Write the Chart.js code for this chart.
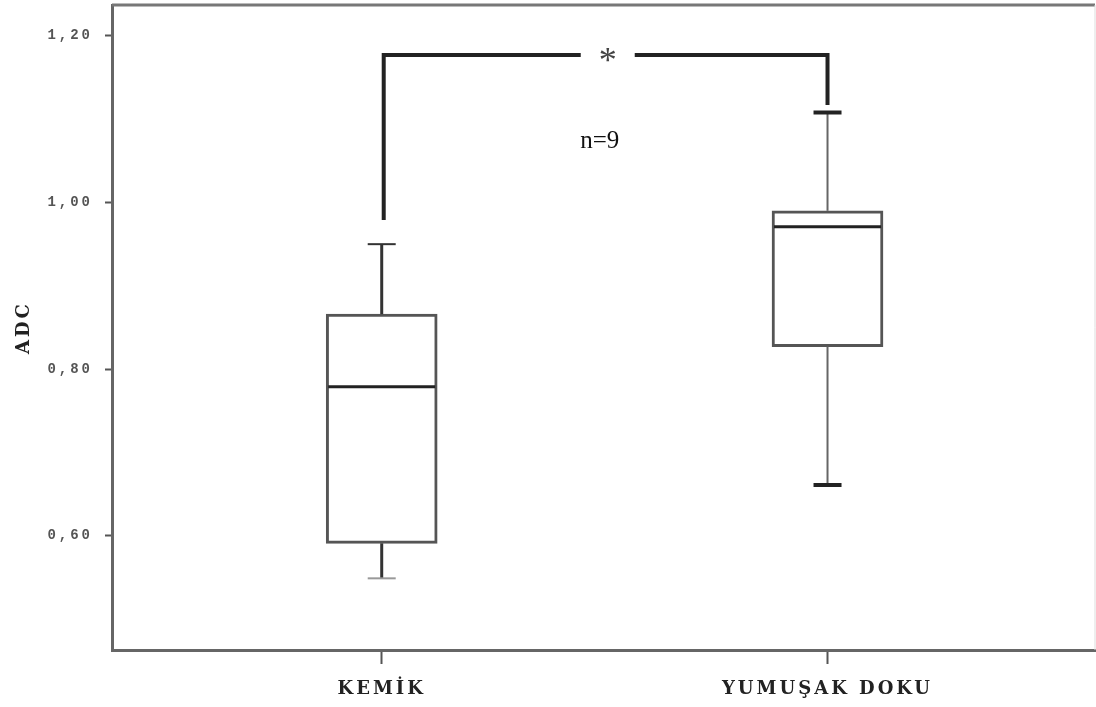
<!DOCTYPE html>
<html lang="tr">
  <head>
    <meta charset="UTF-8" />
    <title>ADC</title>
    <script src="https://cdn.jsdelivr.net/npm/chart.js@4/dist/chart.umd.min.js"></script>
    <style>
      body { margin: 0; background: #fff; }
      #wrap { width: 1096px; height: 707px; }
    </style>
  </head>
  <body>
    <div id="wrap"><canvas id="chart"></canvas></div>

    <script>
      // data
      const categories = ["KEMİK", "YUMUŞAK DOKU"];
      const xPositions = [1, 2];
      const whiskerLow = [0.549, 0.661];
      const q1 = [0.591, 0.827];
      const median = [0.779, 0.971];
      const q3 = [0.866, 0.99];
      const whiskerHigh = [0.95, 1.108];
      const yTicks = [0.6, 0.8, 1.0, 1.2];

      // significance bracket + note
      const bracketY = 1.177;
      const bracketEnds = [0.979, 1.117];
      const starAt = [1.507, 1.177];
      const noteText = "n=9";
      const noteAt = [1.489, 1.073];

      // per-box line styles (whisker, top cap, bottom cap)
      const boxStyles = [
        { whisker: ["#333", 3], capTop: ["#333", 2], capBottom: ["#999", 2] },
        { whisker: ["#666", 2], capTop: ["#222", 4], capBottom: ["#222", 4] },
      ];

      function seg(ctx, x1, y1, x2, y2, color, w) {
        ctx.beginPath();
        ctx.strokeStyle = color;
        ctx.lineWidth = w;
        ctx.moveTo(x1, y1);
        ctx.lineTo(x2, y2);
        ctx.stroke();
      }

      const boxExtras = {
        id: "boxExtras",
        beforeDraw(chart) {
          chart.ctx.letterSpacing = "3px";
        },
        afterDatasetsDraw(chart) {
          const { ctx, scales } = chart;
          const x = scales.x, y = scales.y;
          const bars = chart.getDatasetMeta(0).data;
          ctx.save();
          ctx.letterSpacing = "0px";

          xPositions.forEach((pos, i) => {
            const cx = x.getPixelForValue(pos);
            const half = bars[i].width / 2;
            const st = boxStyles[i];
            // whiskers
            seg(ctx, cx, y.getPixelForValue(q3[i]), cx, y.getPixelForValue(whiskerHigh[i]), st.whisker[0], st.whisker[1]);
            seg(ctx, cx, y.getPixelForValue(q1[i]), cx, y.getPixelForValue(whiskerLow[i]), st.whisker[0], st.whisker[1]);
            // caps
            const yh = y.getPixelForValue(whiskerHigh[i]);
            const yl = y.getPixelForValue(whiskerLow[i]);
            seg(ctx, cx - 14, yh, cx + 14, yh, st.capTop[0], st.capTop[1]);
            seg(ctx, cx - 14, yl, cx + 14, yl, st.capBottom[0], st.capBottom[1]);
            // median
            const ym = y.getPixelForValue(median[i]);
            seg(ctx, cx - half + 2, ym, cx + half - 2, ym, "#222", 3);
          });

          // bracket
          const xl = x.getPixelForValue(xPositions[0]) + 2;
          const xr = x.getPixelForValue(xPositions[1]);
          const yb = y.getPixelForValue(bracketY);
          const sx = x.getPixelForValue(starAt[0]);
          const sy = y.getPixelForValue(starAt[1]);
          ctx.lineJoin = "miter";
          ctx.strokeStyle = "#222";
          ctx.lineWidth = 4;
          ctx.beginPath();
          ctx.moveTo(xl, y.getPixelForValue(bracketEnds[0]));
          ctx.lineTo(xl, yb);
          ctx.lineTo(sx - 27, yb);
          ctx.stroke();
          ctx.beginPath();
          ctx.moveTo(sx + 27, yb);
          ctx.lineTo(xr, yb);
          ctx.lineTo(xr, y.getPixelForValue(bracketEnds[1]));
          ctx.stroke();

          // star, centred on the bracket line
          ctx.fillStyle = "#444";
          ctx.font = "36px 'Liberation Serif'";
          ctx.textAlign = "center";
          ctx.textBaseline = "alphabetic";
          const m = ctx.measureText("*");
          ctx.fillText("*", sx, sy + (m.actualBoundingBoxAscent - m.actualBoundingBoxDescent) / 2);

          // n=9
          ctx.fillStyle = "#111";
          ctx.font = "25px 'Liberation Serif'";
          ctx.textBaseline = "middle";
          ctx.fillText(noteText, x.getPixelForValue(noteAt[0]), y.getPixelForValue(noteAt[1]));

          // top and right frame
          const a = chart.chartArea;
          seg(ctx, a.left, a.top, a.right, a.top, "#777", 3);
          seg(ctx, a.right, a.top, a.right, a.bottom, "#ddd", 1);
          ctx.restore();
        },
      };

      const ctx = document.getElementById("chart").getContext("2d");
      const myChart = new Chart(ctx, {
        type: "bar",
        data: {
          datasets: [
            {
              data: xPositions.map((p, i) => ({ x: p, y: [q1[i], q3[i]] })),
              backgroundColor: "#fff",
              borderColor: "#555",
              borderWidth: 3,
              borderSkipped: false,
              barThickness: 111,
            },
          ],
        },
        plugins: [boxExtras],
        options: {
          responsive: true,
          maintainAspectRatio: false,
          animation: false,
          layout: { padding: { top: 5, right: 1, left: 0, bottom: 0 } },
          plugins: {
            legend: { display: false },
            tooltip: { enabled: false },
          },
          scales: {
            x: {
              type: "linear",
              offset: false,
              min: 0.395,
              max: 2.6,
              afterBuildTicks: (s) => {
                s.ticks = xPositions.map((v) => ({ value: v }));
              },
              afterFit: (s) => {
                s.height = 57;
                s.paddingLeft = 0;
                s.paddingRight = 0;
              },
              ticks: {
                callback: (v) => categories[xPositions.indexOf(v)],
                autoSkip: false,
                maxRotation: 0,
                padding: 15,
                color: "#222",
                font: { family: "'DejaVu Serif'", size: 18, weight: "bold" },
              },
              grid: { offset: false, drawOnChartArea: false, tickLength: 14, tickColor: "#555", tickWidth: 2 },
              border: { color: "#666", width: 3 },
            },
            y: {
              min: 0.463,
              max: 1.237,
              afterBuildTicks: (s) => {
                s.ticks = yTicks.map((v) => ({ value: v }));
              },
              afterFit: (s) => {
                s.width = 112;
                s.paddingTop = 0;
                s.paddingBottom = 0;
              },
              ticks: {
                callback: (v) => v.toFixed(2).replace(".", ","),
                padding: 12,
                color: "#555",
                font: { family: "'Liberation Mono'", size: 14, weight: "bold" },
              },
              grid: { drawOnChartArea: false, tickLength: 7, tickColor: "#555", tickWidth: 2 },
              border: { color: "#666", width: 3 },
              title: {
                display: true,
                text: "ADC",
                color: "#222",
                padding: { top: 14, bottom: 0 },
                font: { family: "'DejaVu Serif'", size: 18, weight: "bold" },
              },
            },
          },
        },
      });
    </script>
  </body>
</html>
